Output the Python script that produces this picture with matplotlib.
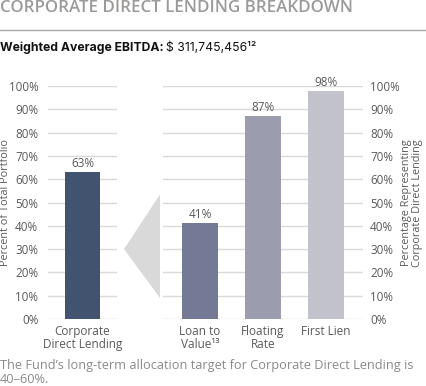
import matplotlib
matplotlib.use("Agg")
import matplotlib.pyplot as plt
from matplotlib.patches import Polygon
from matplotlib.transforms import blended_transform_factory

plt.rcParams['font.family'] = ['Open Sans', 'DejaVu Sans']

# Data
left_categories = ["Corporate\nDirect Lending"]
left_values = [63]
right_categories = ["Loan to\nValue\u00b9\u00b3", "Floating\nRate", "First Lien"]
right_values = [41, 87, 98]
yticks = [0, 10, 20, 30, 40, 50, 60, 70, 80, 90, 100]
ytick_labels = [f"{v}%" for v in yticks]

left_color = "#42536f"
right_colors = ["#747a95", "#9b9dae", "#c2c2cd"]
grid_color = "#d9d9d9"
text_color = "#5a5a5a"

W, H = 427, 386
fig = plt.figure(figsize=(W / 100, H / 100), dpi=100)

def fx(px):
    return px / W

def fy(py):
    return 1 - py / H

bottom = fy(319)
height = fy(86) - bottom

axL = fig.add_axes([fx(48), bottom, fx(117) - fx(48), height])
axR = fig.add_axes([fx(163), bottom, fx(363) - fx(163), height])

ytick_fs = 8.4
xtick_fs = 8.5

for ax in (axL, axR):
    ax.set_ylim(0, 100)
    ax.set_yticks(yticks)
    ax.set_yticklabels(ytick_labels)
    for s in ax.spines.values():
        s.set_visible(False)
    ax.grid(axis='y', color=grid_color, linewidth=1.0)
    ax.set_axisbelow(True)
    ax.tick_params(axis='y', length=0, labelsize=ytick_fs, labelcolor=text_color)
    ax.tick_params(axis='x', length=0, labelsize=xtick_fs, labelcolor=text_color, pad=4)
    ax.set_facecolor('none')

# Left panel
axL.set_xlim(-0.5, 0.5)
xl = list(range(len(left_categories)))
axL.bar(xl, left_values, width=0.52, color=left_color, zorder=2)
axL.set_xticks(xl)
axL.set_xticklabels(left_categories, linespacing=1.05)
axL.tick_params(axis='y', pad=7)
for x, v in zip(xl, left_values):
    axL.annotate(f"{v}%", (x, v), xytext=(0, 1.5), textcoords='offset points',
                 ha='center', va='bottom', fontsize=xtick_fs, color=text_color)

# Right panel
axR.set_xlim(-0.587, 2.587)
xr = list(range(len(right_categories)))
axR.bar(xr, right_values, width=0.556, color=right_colors, zorder=2)
axR.set_xticks(xr)
axR.set_xticklabels(right_categories, linespacing=1.05)
axR.yaxis.tick_right()
axR.tick_params(axis='y', pad=5)
for x, v in zip(xr, right_values):
    axR.annotate(f"{v}%", (x, v), xytext=(0, 1.5), textcoords='offset points',
                 ha='center', va='bottom', fontsize=xtick_fs, color=text_color)

# Axis titles
ymid = fy(203)
fig.text(fx(5.5), ymid, "Percent of Total Portfolio", rotation=90, ha='center', va='center',
         fontsize=7.8, color=text_color)
fig.text(fx(412), ymid, "Percentage Representing\nCorporate Direct Lending", rotation=90,
         ha='center', va='center', fontsize=7.8, color=text_color, linespacing=1.0)

# Connector triangle (x in figure fraction, y in left-axis data units)
trans = blended_transform_factory(fig.transFigure, axL.transData)
tri = Polygon([(fx(124), 30), (fx(160), 53.5), (fx(160), 9)], closed=True,
              facecolor="#d9d9d9", edgecolor='none', transform=trans, clip_on=False)
fig.patches.append(tri)

# Header
fig.text(fx(0), fy(12.5), "CORPORATE DIRECT LENDING BREAKDOWN", fontsize=12.2,
         fontweight='semibold', color="#9c9a99", ha='left', va='baseline')
fig.add_artist(plt.Line2D([0, 1], [fy(29.5), fy(29.5)], color="#a8a8a8", linewidth=1.0,
                          transform=fig.transFigure))
t1 = fig.text(fx(0), fy(51), "Weighted Average EBITDA: ", fontsize=8.8, fontweight='bold',
              color="#111111", ha='left', va='baseline', family=['Inter', 'DejaVu Sans'])
fig.canvas.draw()
bb = t1.get_window_extent()
fig.text(bb.x1 / W, fy(51), "$ 311,745,456\u00b9\u00b2", fontsize=8.8, color="#111111",
         ha='left', va='baseline', family=['Inter', 'DejaVu Sans'])

# Footnote
fig.text(fx(0), fy(369), "The Fund\u2019s long-term allocation target for Corporate Direct Lending is",
         fontsize=9.2, color="#8a8a8a", ha='left', va='baseline')
fig.text(fx(0), fy(383), "40\u201360%.", fontsize=9.2, color="#8a8a8a", ha='left', va='baseline')

fig.savefig("out.png", dpi=100)
